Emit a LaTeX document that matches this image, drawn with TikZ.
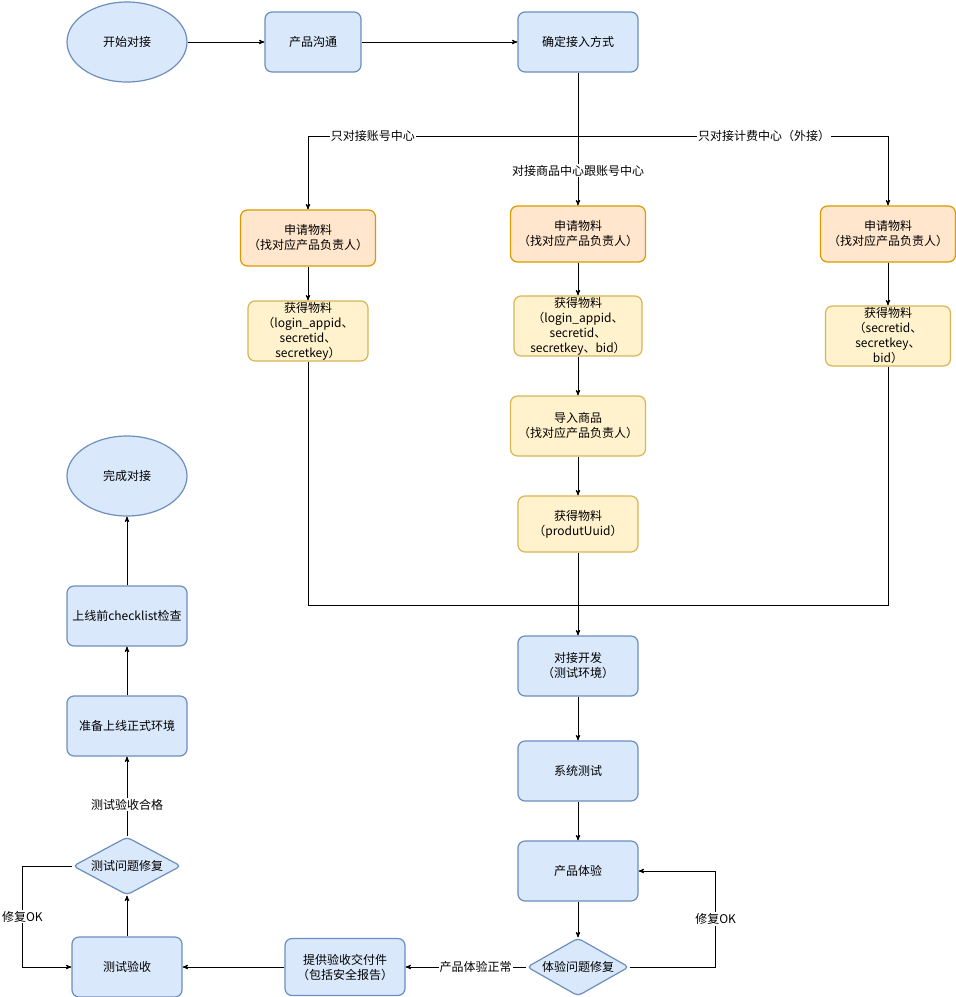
\documentclass[tikz,border=0pt]{standalone}
\usepackage{fontspec}
\setmainfont{Noto Sans CJK SC}
\usetikzlibrary{positioning, shapes.geometric, arrows}

\definecolor{bluebg}{HTML}{DAE8FC}
\definecolor{blueln}{HTML}{6C8EBF}
\definecolor{orgbg}{HTML}{FFE6CC}
\definecolor{orgln}{HTML}{D79B00}
\definecolor{ylwbg}{HTML}{FFF2CC}
\definecolor{ylwln}{HTML}{D6B656}

\tikzset{
  base/.style={line width=1.2pt, align=center, inner sep=1pt,
    font=\fontsize{12}{15}\selectfont},
  blk/.style={base, draw=blueln, fill=bluebg, rounded corners=7pt,
    minimum width=120pt, minimum height=60pt},
  oval/.style={base, ellipse, draw=blueln, fill=bluebg,
    minimum width=120pt, minimum height=80pt},
  ask/.style={base, draw=orgln, fill=orgbg, rounded corners=7pt,
    minimum width=135pt, minimum height=56pt},
  got/.style={base, draw=ylwln, fill=ylwbg, rounded corners=7pt,
    minimum width=120pt, minimum height=60pt},
  chk/.style={base, diamond, draw=blueln, fill=bluebg, rounded corners=4pt,
    inner sep=0pt, aspect=1.8, minimum width=108pt, minimum height=58pt},
  lbl/.style={fill=white, inner sep=1pt, font=\fontsize{12}{14}\selectfont},
  line/.style={line width=0.9pt, >=stealth'}
}

\begin{document}
\begin{tikzpicture}[x=1pt, y=-1pt, node distance=100pt, on grid]
\useasboundingbox (0,0) rectangle (956,997);

   % top row
   \node[oval] (start) at (127,42) {开始对接};
   \node[blk] (talk) [right=186pt of start, minimum width=96pt] {产品沟通};
   \node[blk] (way) [right=265pt of talk] {确定接入方式};

   % three branches
   \node[ask] (lask) at (308,238) {申请物料\\（找对应产品负责人）};
   \node[ask] (mask) [below=192pt of way] {申请物料\\（找对应产品负责人）};
   \node[ask] (rask) [right=310pt of mask] {申请物料\\（找对应产品负责人）};

   \node[got] (lget) [below=93pt of lask] {获得物料\\（login\_appid、\\secretid、\\secretkey）};
   \node[got] (mget) [below=92pt of mask, minimum width=128pt] {获得物料\\（login\_appid、\\secretid、\\secretkey、bid）};
   \node[got] (rget) [below=102pt of rask, minimum width=125pt] {获得物料\\（secretid、\\secretkey、\\bid）};

   \node[got] (goods) [below=100pt of mget, minimum width=135pt] {导入商品\\（找对应产品负责人）};
   \node[got] (uuid) [below=98pt of goods, minimum height=56pt] {获得物料\\（produtUuid）};

   % main flow
   \node[blk] (dev) [below=142pt of uuid] {对接开发\\（测试环境）};
   \node[blk] (sys) [below=105pt of dev] {系统测试};
   \node[blk] (exp) [below=100pt of sys] {产品体验};
   \node[chk] (efix) [below=96pt of exp, minimum width=102pt] {体验问题修复};

   \node[blk] (deliver) [left=233pt of efix, minimum height=57pt] {提供验收交付件\\（包括安全报告）};
   \node[blk] (accept) [left=218pt of deliver, minimum width=110pt] {测试验收};
   \node[chk] (tfix) [above=101pt of accept] {测试问题修复};
   \node[blk] (prep) [above=140pt of tfix] {准备上线正式环境};
   \node[blk] (check) [above=110pt of prep] {上线前checklist检查};
   \node[oval] (done) [above=140pt of check] {完成对接};

   \coordinate (split) at (578,136);
   \coordinate (merge) at (578,605);

   \path[line,->]
   (start) edge (talk)
   (talk) edge (way);

   \draw[line,->] (way.south) -- node[lbl, pos=0.74] {对接商品中心跟账号中心} (mask.north);
   \draw[line,->] (split) -| node[lbl, pos=0.38] {只对接账号中心} (lask.north);
   \draw[line,->] (split) -| node[lbl, pos=0.3] {只对接计费中心（外接）} (rask.north);

   \path[line,->]
   (lask) edge (lget)
   (mask) edge (mget)
   (mget) edge (goods)
   (goods) edge (uuid)
   (rask) edge (rget);

   \draw[line] (lget.south) |- (merge);
   \draw[line] (rget.south) |- (merge);
   \draw[line,->] (uuid.south) -- (dev.north);

   \path[line,->]
   (dev) edge (sys)
   (sys) edge (exp)
   (exp) edge (efix);

   \draw[line,->] (efix.east) -- ++(86,0) |- node[lbl, pos=0.25] {修复OK} (exp.east);
   \draw[line,->] (efix.west) -- node[lbl, pos=0.42] {产品体验正常} (deliver.east);
   \draw[line,->] (deliver) -- (accept);
   \draw[line,->] (accept) -- (tfix);
   \draw[line,->] (tfix.west) -- ++(-50,0) |- node[lbl, pos=0.25] {修复OK} (accept.west);
   \draw[line,->] (tfix.north) -- node[lbl, pos=0.4] {测试验收合格} (prep.south);

   \path[line,->]
   (prep) edge (check)
   (check) edge (done);

\end{tikzpicture}
\end{document}
